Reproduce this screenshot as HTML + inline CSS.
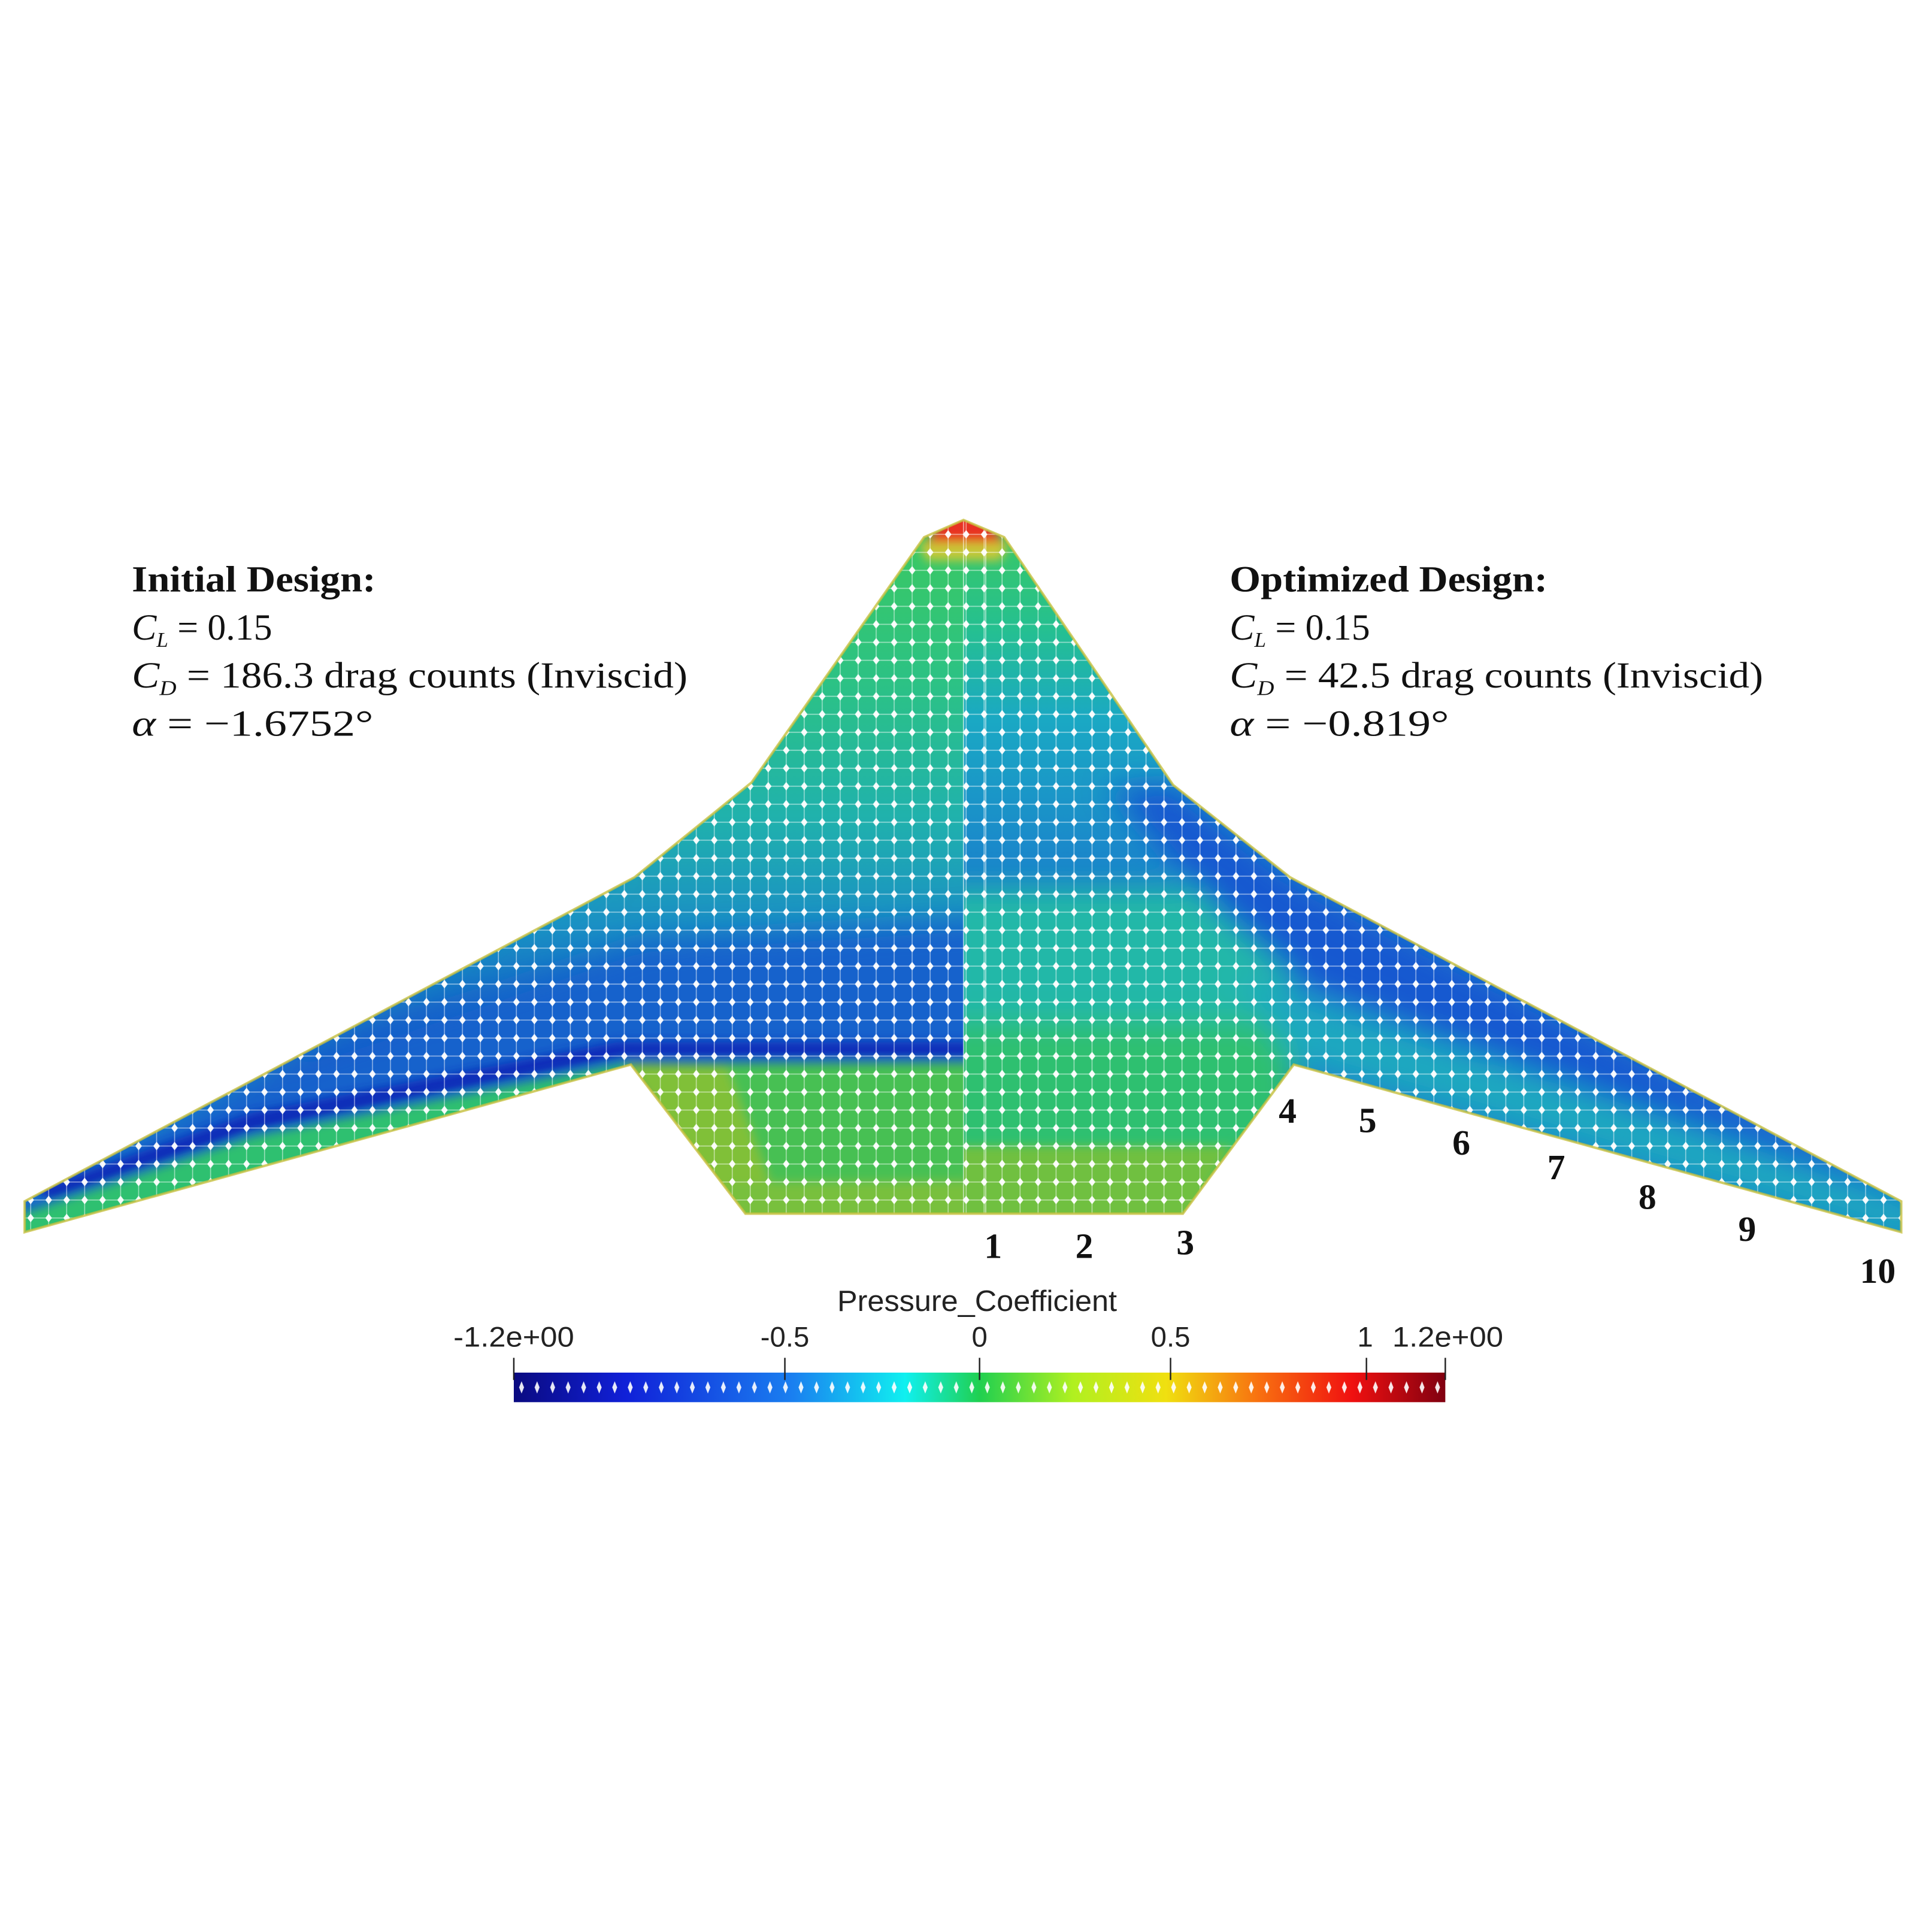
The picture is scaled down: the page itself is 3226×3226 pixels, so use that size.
<!DOCTYPE html>
<html><head><meta charset="utf-8"><style>
html,body{margin:0;padding:0;background:#fff;}
svg{display:block;}
</style></head><body>
<svg width="3226" height="3226" viewBox="0 0 1568 1568" xmlns="http://www.w3.org/2000/svg">
<defs>
<clipPath id="wing">
<path d="M782,422 L815,436 L952,637 L1047,712 L1543,975 L1543,1000 L1050,864 L960,985 L605,985 L512,864 L20,1000 L20,975 L515,712 L610,635 L750,436 Z"/>
</clipPath>
<clipPath id="lefth"><rect x="0" y="0" width="782" height="1568"/></clipPath>
<clipPath id="righth"><rect x="782" y="0" width="800" height="1568"/></clipPath>
<filter id="bl" x="-20%" y="-20%" width="140%" height="140%"><feGaussianBlur stdDeviation="12"/></filter>
<filter id="bl2" x="-20%" y="-20%" width="140%" height="140%"><feGaussianBlur stdDeviation="4"/></filter>
<linearGradient id="lg" x1="0" y1="420" x2="0" y2="860" gradientUnits="userSpaceOnUse">
<stop offset="0" stop-color="#3cc95e"/><stop offset="0.3" stop-color="#2cc284"/>
<stop offset="0.55" stop-color="#20b2ac"/><stop offset="0.75" stop-color="#1a90c4"/><stop offset="1" stop-color="#1250c8"/></linearGradient>
<linearGradient id="rg" x1="0" y1="420" x2="0" y2="720" gradientUnits="userSpaceOnUse">
<stop offset="0" stop-color="#3cc95e"/><stop offset="0.3" stop-color="#25c090"/>
<stop offset="0.55" stop-color="#1aa8c4"/><stop offset="1" stop-color="#1a80cc"/></linearGradient>
<linearGradient id="cb" x1="417" y1="0" x2="1173" y2="0" gradientUnits="userSpaceOnUse">
<stop offset="0" stop-color="#0a0a80"/><stop offset="0.12" stop-color="#1020d8"/>
<stop offset="0.3" stop-color="#1a80f0"/><stop offset="0.42" stop-color="#10f0f0"/>
<stop offset="0.5" stop-color="#20d050"/><stop offset="0.6" stop-color="#b0f020"/>
<stop offset="0.7" stop-color="#f0e010"/><stop offset="0.8" stop-color="#f87010"/>
<stop offset="0.9" stop-color="#f01010"/><stop offset="1" stop-color="#800010"/></linearGradient>
<pattern id="dots" x="3" y="3" width="14.6" height="14.6" patternUnits="userSpaceOnUse">
<line x1="0" y1="7.3" x2="14.6" y2="7.3" stroke="#fff" stroke-width="0.8" stroke-opacity="0.5"/>
<line x1="7.3" y1="0" x2="7.3" y2="14.6" stroke="#fff" stroke-width="0.8" stroke-opacity="0.5"/>
<path d="M7.3,3.8 L10,7.3 L7.3,10.8 L4.6,7.3 Z" fill="#fff" fill-opacity="0.95"/>
</pattern>
<pattern id="cdots" x="417" y="0" width="12.6" height="1568" patternUnits="userSpaceOnUse">
<path d="M6.3,1121 L8.3,1126 L6.3,1131 L4.3,1126 Z" fill="#fff" fill-opacity="0.9"/>
</pattern>
</defs>

<g clip-path="url(#wing)">
  <g clip-path="url(#lefth)">
    <rect x="0" y="400" width="782" height="600" fill="url(#lg)"/>
    <g filter="url(#bl)">
      <!-- blue mid band across wing and center -->
      <polygon points="830,745 830,860 510,858 205,925 20,990 0,960 200,875 520,765" fill="#1462cc"/>
      <!-- teal near LE on wing -->
      <polygon points="515,705 0,975 0,955 200,855 430,745" fill="#1eb0bc" fill-opacity="0.8"/>
    </g>
    <g filter="url(#bl2)">
      <!-- dark stripe -->
      <polygon points="830,846 830,858 510,857 205,918 40,975 30,965 205,903 500,846" fill="#0a2cb8"/>
      <!-- green TE strip -->
      <polygon points="510,862 205,922 20,984 0,990 0,1020 520,880" fill="#2ec070"/>
      <!-- center body green -->
      <polygon points="508,863 830,862 830,1000 600,1000" fill="#46c052"/>
      <polygon points="508,863 590,866 640,1000 590,1000" fill="#80c038"/>
      <polygon points="590,960 830,958 830,1000 590,1000" fill="#78c03c"/>
    </g>
  </g>
  <g clip-path="url(#righth)">
    <rect x="782" y="400" width="800" height="600" fill="url(#rg)"/>
    <g filter="url(#bl)">
      <polygon points="760,720 1000,720 1050,800 1050,1000 760,1000" fill="#22b8a8"/>
      <polygon points="760,830 1050,830 1050,1000 760,1000" fill="#2ec070"/>
      <polygon points="900,640 952,637 1047,712 1560,975 1560,985 1300,890 1060,800 990,740" fill="#1658d0"/>
      <polygon points="1000,790 1300,890 1560,978 1560,1010 1300,935 1050,862" fill="#1ea8c0"/>
    </g>
    <g filter="url(#bl2)">
      <polygon points="760,930 1000,930 960,1000 760,1000" fill="#70c040"/>
    </g>
  </g>
  <g filter="url(#bl2)">
    <polygon points="770,415 795,415 815,440 782,448 752,440" fill="#e83020"/>
    <polygon points="745,440 820,440 812,455 752,455" fill="#c8c838"/>
  </g>
  <rect x="0" y="400" width="1568" height="600" fill="url(#dots)"/>
  <line x1="782" y1="420" x2="782" y2="990" stroke="#fff" stroke-opacity="0.5" stroke-width="1"/>
  <line x1="800" y1="420" x2="800" y2="990" stroke="#fff" stroke-opacity="0.5" stroke-width="1"/>
</g>
<path d="M782,422 L815,436 L952,637 L1047,712 L1543,975 L1543,1000 L1050,864 L960,985 L605,985 L512,864 L20,1000 L20,975 L515,712 L610,635 L750,436 Z" fill="none" stroke="#c8c040" stroke-width="2" stroke-opacity="0.8"/>

<g font-family="Liberation Serif, serif" font-size="30" fill="#111">
  <text x="107" y="480" font-weight="bold" textLength="198" lengthAdjust="spacingAndGlyphs">Initial Design:</text>
  <text x="107" y="519"><tspan font-style="italic">C</tspan><tspan font-size="17" font-style="italic" dy="6">L</tspan><tspan dy="-6"> = 0.15</tspan></text>
  <text x="107" y="558" textLength="451" lengthAdjust="spacingAndGlyphs"><tspan font-style="italic">C</tspan><tspan font-size="17" font-style="italic" dy="6">D</tspan><tspan dy="-6"> = 186.3 drag counts (Inviscid)</tspan></text>
  <text x="107" y="597" textLength="196" lengthAdjust="spacingAndGlyphs"><tspan font-style="italic">α</tspan> = −1.6752°</text>
  <text x="998" y="480" font-weight="bold" textLength="258" lengthAdjust="spacingAndGlyphs">Optimized Design:</text>
  <text x="998" y="519"><tspan font-style="italic">C</tspan><tspan font-size="17" font-style="italic" dy="6">L</tspan><tspan dy="-6"> = 0.15</tspan></text>
  <text x="998" y="558" textLength="433" lengthAdjust="spacingAndGlyphs"><tspan font-style="italic">C</tspan><tspan font-size="17" font-style="italic" dy="6">D</tspan><tspan dy="-6"> = 42.5 drag counts (Inviscid)</tspan></text>
  <text x="998" y="597" textLength="178" lengthAdjust="spacingAndGlyphs"><tspan font-style="italic">α</tspan> = −0.819°</text>
</g>
<g font-family="Liberation Serif, serif" font-size="29" font-weight="bold" fill="#111" text-anchor="middle">
  <text x="806" y="1021">1</text><text x="880" y="1021">2</text><text x="962" y="1018">3</text>
  <text x="1045" y="911">4</text><text x="1110" y="919">5</text><text x="1186" y="937">6</text>
  <text x="1263" y="957">7</text><text x="1337" y="981">8</text><text x="1418" y="1007">9</text>
  <text x="1524" y="1041">10</text>
</g>

<g font-family="Liberation Sans, sans-serif" font-size="23" fill="#222" text-anchor="middle">
  <text x="793" y="1064" font-size="24" textLength="227" lengthAdjust="spacingAndGlyphs">Pressure_Coefficient</text>
  <text x="417" y="1093" textLength="98" lengthAdjust="spacingAndGlyphs">-1.2e+00</text><text x="637" y="1093">-0.5</text>
  <text x="795" y="1093">0</text><text x="950" y="1093">0.5</text>
  <text x="1108" y="1093">1</text><text x="1175" y="1093" textLength="90" lengthAdjust="spacingAndGlyphs">1.2e+00</text>
</g>
<rect x="417" y="1114" width="756" height="24" fill="url(#cb)"/>
<rect x="417" y="1114" width="756" height="24" fill="url(#cdots)"/>
<g stroke="#222" stroke-width="1.2">
  <line x1="417" y1="1102" x2="417" y2="1120"/><line x1="637" y1="1102" x2="637" y2="1120"/>
  <line x1="795" y1="1102" x2="795" y2="1120"/><line x1="950" y1="1102" x2="950" y2="1120"/>
  <line x1="1109" y1="1102" x2="1109" y2="1120"/><line x1="1173" y1="1102" x2="1173" y2="1120"/>
</g>
</svg>
</body></html>
